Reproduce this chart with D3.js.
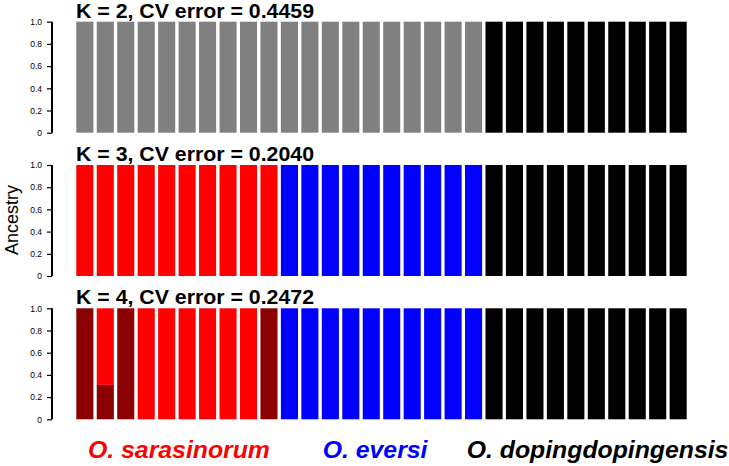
<!DOCTYPE html>
<html>
<head>
<meta charset="utf-8">
<script src="https://cdn.jsdelivr.net/npm/d3@7"></script>
<style>
  html, body { margin: 0; padding: 0; background: #fff; }
  svg { display: block; font-family: "Liberation Sans", Arial, Helvetica, sans-serif; }
</style>
</head>
<body>
<svg id="chart" width="729" height="466"></svg>
<script>
// ---- data ----
const samples = d3.range(1, 31).map(i => "S" + i);

const titles = ["K = 2, CV error = 0.4459", "K = 3, CV error = 0.2040", "K = 4, CV error = 0.2472"];

// K = 2
const k2_gray  = [1,1,1,1,1,1,1,1,1,1, 1,1,1,1,1,1,1,1,1,1, 0,0,0,0,0,0,0,0,0,0];
const k2_black = [0,0,0,0,0,0,0,0,0,0, 0,0,0,0,0,0,0,0,0,0, 1,1,1,1,1,1,1,1,1,1];
// K = 3
const k3_red   = [1,1,1,1,1,1,1,1,1,1, 0,0,0,0,0,0,0,0,0,0, 0,0,0,0,0,0,0,0,0,0];
const k3_blue  = [0,0,0,0,0,0,0,0,0,0, 1,1,1,1,1,1,1,1,1,1, 0,0,0,0,0,0,0,0,0,0];
const k3_black = [0,0,0,0,0,0,0,0,0,0, 0,0,0,0,0,0,0,0,0,0, 1,1,1,1,1,1,1,1,1,1];
// K = 4
const k4_darkred = [1,0.31,1,0,0,0,0,0,0,1, 0,0,0,0,0,0,0,0,0,0, 0,0,0,0,0,0,0,0,0,0];
const k4_red     = [0,0.69,0,1,1,1,1,1,1,0, 0,0,0,0,0,0,0,0,0,0, 0,0,0,0,0,0,0,0,0,0];
const k4_blue    = [0,0,0,0,0,0,0,0,0,0, 1,1,1,1,1,1,1,1,1,1, 0,0,0,0,0,0,0,0,0,0];
const k4_black   = [0,0,0,0,0,0,0,0,0,0, 0,0,0,0,0,0,0,0,0,0, 1,1,1,1,1,1,1,1,1,1];

const yTicks = [0, 0.2, 0.4, 0.6, 0.8, 1.0];
const yTickLabels = ["0", "0.2", "0.4", "0.6", "0.8", "1.0"];

const legendLabels = ["O. sarasinorum", "O. eversi", "O. dopingdopingensis"];
const legendColors = ["#ff0000", "#0000ff", "#000000"];

const panels = [
  { title: titles[0], series: [{ v: k2_gray, c: "#808080" }, { v: k2_black, c: "#000000" }] },
  { title: titles[1], series: [{ v: k3_red, c: "#ff0000" }, { v: k3_blue, c: "#0000ff" }, { v: k3_black, c: "#000000" }] },
  { title: titles[2], series: [{ v: k4_darkred, c: "#8b0000" }, { v: k4_red, c: "#ff0000" }, { v: k4_blue, c: "#0000ff" }, { v: k4_black, c: "#000000" }] }
];

// ---- layout ----
const svg = d3.select("#chart");
const panelTops = [21.7, 165, 308.3];
const panelH = 111;

const x = d3.scaleBand().domain(samples).range([76.3, 686.7]).paddingInner(0.165).paddingOuter(0);

panels.forEach((p, pi) => {
  const top = panelTops[pi];
  const y = d3.scaleLinear().domain([0, 1]).range([top + panelH, top]);
  const g = svg.append("g");

  const rows = samples.map((s, i) => {
    const r = { sample: s };
    p.series.forEach((ser, k) => r["k" + k] = ser.v[i]);
    return r;
  });
  const keys = p.series.map((_, k) => "k" + k);
  const stacked = d3.stack().keys(keys)(rows);

  stacked.forEach((layer, k) => {
    g.append("g").selectAll("rect")
      .data(layer.filter(d => d[1] - d[0] > 0))
      .join("rect")
      .attr("x", d => x(d.data.sample))
      .attr("width", x.bandwidth())
      .attr("y", d => y(d[1]))
      .attr("height", d => y(d[0]) - y(d[1]))
      .attr("fill", p.series[k].c);
  });

  const axis = d3.axisLeft(y).tickValues(yTicks).tickFormat((d, i) => yTickLabels[i]).tickSize(5).tickPadding(5);
  const ag = g.append("g").attr("transform", "translate(52,0)").call(axis);
  ag.select(".domain").attr("stroke", "#000").attr("stroke-width", 2).attr("d", `M0,${y(1)}V${y(0)}`);
  ag.selectAll(".tick line").attr("stroke", "#000").attr("stroke-width", 1.2);
  ag.selectAll(".tick text").attr("font-size", "8.5px").attr("fill", "#000")
    .attr("font-family", "'Liberation Sans', Arial, sans-serif");

  g.append("text")
    .attr("x", 76)
    .attr("y", top - 4)
    .attr("font-size", "19.5px")
    .attr("font-weight", "bold")
    .attr("fill", "#000")
    .attr("textLength", 238)
    .attr("lengthAdjust", "spacingAndGlyphs")
    .text(p.title);
});

svg.append("text")
  .attr("transform", "translate(18,220) rotate(-90)")
  .attr("text-anchor", "middle")
  .attr("font-size", "18px")
  .attr("fill", "#000")
  .text("Ancestry");

const legendX = [88, 322.7, 466.7];
svg.append("g").selectAll("text")
  .data(legendLabels)
  .join("text")
  .attr("x", (d, i) => legendX[i])
  .attr("y", 458)
  .attr("font-size", "24.8px")
  .attr("font-weight", "bold")
  .attr("font-style", "italic")
  .attr("fill", (d, i) => legendColors[i])
  .text(d => d);
</script>
</body>
</html>
